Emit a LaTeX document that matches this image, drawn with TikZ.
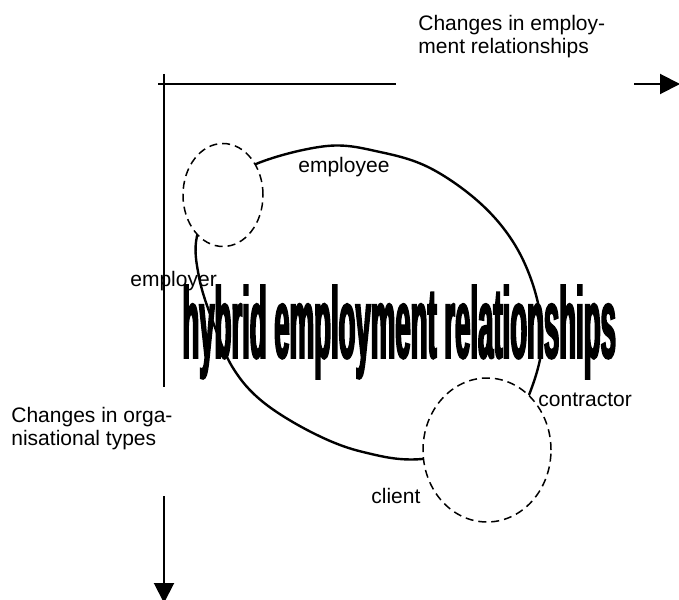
\documentclass[tikz,border=0pt]{standalone}
\usepackage{fontspec}
\setmainfont{Liberation Sans}
\newfontfamily\bigfont{Liberation Sans}[UprightFont=* Bold, FakeStretch=0.273, FakeBold=1.6]
\usetikzlibrary{arrows.meta,shapes.geometric}
\begin{document}
\begin{tikzpicture}[x=0.5pt,y=-0.5pt,
  lbl/.style={font=\fontsize{10.5}{11.5}\selectfont, inner sep=0pt},
  axisline/.style={line width=1pt},
  axisarrow/.style={line width=1pt, -{Triangle[length=10pt,width=10pt]}},
  hybridline/.style={line width=1.2pt},
  party/.style={draw, ellipse, inner sep=0pt, dash pattern=on 4pt off 2.5pt, line width=0.75pt, fill=white}
]
\useasboundingbox (0,0) rectangle (679,599);
\clip (0,0) rectangle (679,599);

% big label
\node[inner sep=0pt, anchor=base west] (hybrid) at (182,358)
  {\bigfont\fontsize{50.5}{50.5}\selectfont hybrid employment relationships};

% the hybrid relationship outline
\draw[hybridline] plot[smooth cycle, tension=0.6] coordinates {
  (256,164) (327,146) (380,152) (430,168) (480,203) (515,245) (536,295)
  (542,345) (529,395) (505,440) (422,459) (363,452) (313,433) (263,402)
  (233,368) (213,322) (199,277) (197,236) (218,192)};

% dashed parties
\node[party, minimum width=40pt, minimum height=51.5pt] (empC) at (223,195) {};
\node[party, minimum width=64pt, minimum height=72pt] (cliC) at (487,450) {};

% labels
\node[lbl, anchor=north west, align=left] (toplbl) at (418,15) {Changes in employ-\\ment relationships};
\node[lbl, anchor=north west, align=left] (leftlbl) at (11,407) {Changes in orga-\\nisational types};
\node[lbl, anchor=base west] (employee) at (298,172) {employee};
\node[lbl, anchor=base west] (employer) at (130,286) {employer};
\node[lbl, anchor=base west] (contractor) at (538,406) {contractor};
\node[lbl, anchor=base west] (client) at (371,503) {client};

% axes
\coordinate (h0) at (158,84);
\coordinate (h1) at (396,84);
\coordinate (h2) at (634,84);
\coordinate (h3) at (680,84);
\coordinate (v0) at (164,74);
\coordinate (v1) at (164,387);
\coordinate (v2) at (164,496);
\coordinate (v3) at (164,603);
\draw[axisline] (h0) -- (h1);
\draw[axisarrow] (h2) -- (h3);
\draw[axisline] (v0) -- (v1);
\draw[axisarrow] (v2) -- (v3);
\end{tikzpicture}
\end{document}
